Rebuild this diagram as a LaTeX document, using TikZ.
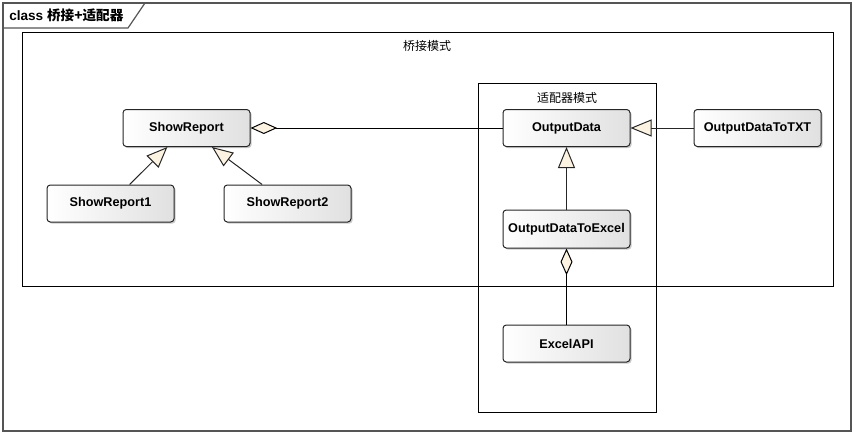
\documentclass[tikz,border=0pt]{standalone}
\usepackage{fontspec}
\setmainfont{Liberation Sans}
\newfontfamily\cjk{Noto Sans CJK SC}
\usetikzlibrary{arrows.meta,shadows}
\definecolor{cream}{RGB}{253,243,227}
\definecolor{framegray}{RGB}{85,85,85}
\tikzset{
 cls/.style={draw=black!85, line width=0.75pt, rounded corners=2.5pt,
   left color=white, right color=black!12,
   minimum width=95.25pt, minimum height=27.75pt, inner sep=0pt,
   font=\fontsize{9.5}{11}\selectfont\bfseries,
   drop shadow={shadow xshift=1.2pt, shadow yshift=-1.2pt, opacity=0.35, fill=black!60}},
 pkgbox/.style={draw=black, line width=0.75pt},
 pkglabel/.style={font=\cjk\fontsize{9}{11}\selectfont, inner sep=0pt},
 gen/.style={draw=black!85, line width=0.75pt, -{Triangle[length=15.75pt, width=12.75pt, fill=cream]}},
 agg/.style={draw=black, line width=0.75pt, -{Diamond[length=20pt, width=9pt, fill=cream]}},
 framestyle/.style={draw=framegray, line width=1.2pt},
}
\begin{document}
\begin{tikzpicture}[x=0.75pt,y=-0.75pt]
\useasboundingbox (0,0) rectangle (856,435);
% outer frame
\draw[framestyle] (3,3) rectangle (851,431);
\draw[framestyle, line width=0.9pt] (3,28) -- (128,28) -- (145,3);
\node[anchor=west, inner sep=0pt] (title) at (9,15.5)
  {\fontsize{10.2}{12}\selectfont\bfseries class {\cjk\bfseries 桥接+适配器}};
% packages
\draw[pkgbox] (22,33) rectangle (833,286);
\node[pkglabel] (bridgelabel) at (427,46) {桥接模式};
\draw[pkgbox] (478,84) rectangle (656,412);
\node[pkglabel] (adapterlabel) at (567,97.5) {适配器模式};
% classes
\node[cls] (sr) at (186.5,128) {ShowReport};
\node[cls] (sr1) at (110.5,203.5) {ShowReport1};
\node[cls] (sr2) at (287.5,203.5) {ShowReport2};
\node[cls] (od) at (566.5,128) {OutputData};
\node[cls] (txt) at (757.5,128) {OutputDataToTXT};
\node[cls, minimum height=28.5pt] (excel) at (566.5,229) {OutputDataToExcel};
\node[cls] (api) at (566.5,343.5) {ExcelAPI};
% connectors
\draw[gen] (sr1) -- (sr);
\draw[gen] (sr2) -- (sr);
\draw[agg] (od) -- (sr);
\draw[gen] (txt) -- (od);
\draw[gen] (excel) -- (od);
\draw[agg] (api) -- (excel);
\end{tikzpicture}
\end{document}
